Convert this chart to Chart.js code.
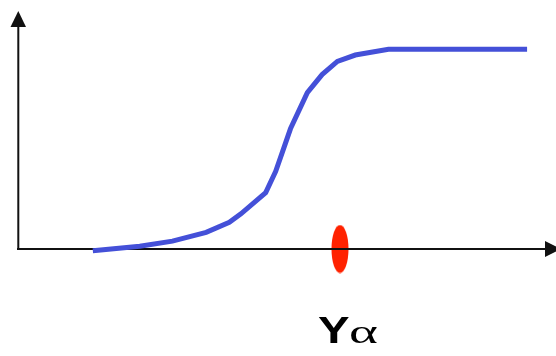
<!DOCTYPE html>
<html>
<head>
<meta charset="utf-8">
<script src="https://cdn.jsdelivr.net/npm/chart.js@4/dist/chart.umd.min.js"></script>
<style>
  html, body { margin: 0; padding: 0; background: #ffffff; }
  #c { display: block; }
</style>
</head>
<body>
<canvas id="c" width="556" height="356"></canvas>
<script>
// ---- data (arbitrary units: x 0..100, y 0..100) ----
const curveX = [14.2, 23.1, 29.3, 35.7, 40.1, 42.3, 47.0, 48.9, 50.2, 51.7, 54.9, 57.7, 60.6, 64.0, 70.3, 96.6];
const curveY = [-0.7, 1.2, 3.3, 7.0, 11.2, 14.8, 23.7, 32.6, 40.9, 50.5, 65.7, 73.3, 78.8, 81.5, 83.9, 83.9];
const markerX = [61.1];
const markerY = [0];
const axisLabelMain = 'Y';
const axisLabelSub = 'α';

// ---- styles ----
const BLUE = 'rgb(68,80,216)';
const RED = 'rgb(255,34,0)';
const AXIS = '#111111';

// ellipse point style
const ell = document.createElement('canvas');
ell.width = 18; ell.height = 49;
(function () {
  const g = ell.getContext('2d');
  g.fillStyle = RED;
  g.beginPath();
  g.ellipse(9, 24.5, 8.5, 24, 0, 0, Math.PI * 2);
  g.fill();
})();

const axesPlugin = {
  id: 'axesPlugin',
  afterDatasetDraw(chart, args) {
    if (args.index !== 1) return;
    const ctx = chart.ctx;
    const xs = chart.scales.x, ys = chart.scales.y;
    const x0 = xs.getPixelForValue(0);
    const y0 = ys.getPixelForValue(0);
    const yTop = ys.getPixelForValue(100);
    const xEnd = xs.getPixelForValue(100);
    ctx.save();
    ctx.strokeStyle = AXIS;
    ctx.fillStyle = AXIS;
    ctx.lineWidth = 2;
    ctx.beginPath();
    ctx.moveTo(x0 + 0.3, y0);
    ctx.lineTo(x0 + 0.3, yTop + 14);
    ctx.moveTo(x0 - 1, y0);
    ctx.lineTo(xEnd + 2, y0);
    ctx.stroke();
    // y arrow head
    ctx.beginPath();
    ctx.moveTo(x0 + 0.3, yTop);
    ctx.lineTo(x0 - 7.5, yTop + 16);
    ctx.lineTo(x0 + 8, yTop + 16);
    ctx.closePath();
    ctx.fill();
    // x arrow head
    ctx.beginPath();
    ctx.moveTo(xEnd + 16, y0);
    ctx.lineTo(xEnd, y0 - 8);
    ctx.lineTo(xEnd, y0 + 8);
    ctx.closePath();
    ctx.fill();
    ctx.restore();
  },
  afterDraw(chart) {
    const ctx = chart.ctx;
    ctx.save();
    ctx.fillStyle = '#000000';
    ctx.textBaseline = 'alphabetic';
    ctx.textAlign = 'left';
    const base = 343;
    // main letter
    ctx.font = 'bold 37px "Liberation Sans", Arial, sans-serif';
    let m = ctx.measureText(axisLabelMain);
    let w = m.actualBoundingBoxRight + m.actualBoundingBoxLeft;
    let sx = 32 / w;
    ctx.save();
    ctx.translate(318, base);
    ctx.scale(sx, 1);
    ctx.fillText(axisLabelMain, m.actualBoundingBoxLeft, 0);
    ctx.restore();
    // greek letter
    ctx.font = '34px "Liberation Serif", "Times New Roman", serif';
    m = ctx.measureText(axisLabelSub);
    w = m.actualBoundingBoxRight + m.actualBoundingBoxLeft;
    sx = 27.5 / w;
    ctx.save();
    ctx.translate(350.5, base);
    ctx.scale(sx, 1);
    ctx.fillText(axisLabelSub, m.actualBoundingBoxLeft, 0);
    ctx.restore();
    ctx.restore();
  }
};

new Chart(document.getElementById('c'), {
  type: 'scatter',
  data: {
    datasets: [
      {
        data: curveX.map((x, i) => ({ x: x, y: curveY[i] })),
        showLine: true,
        borderColor: BLUE,
        borderWidth: 5,
        pointRadius: 0,
        tension: 0,
        borderJoinStyle: 'miter',
        borderCapStyle: 'butt',
        clip: false
      },
      {
        data: markerX.map((x, i) => ({ x: x, y: markerY[i] })),
        showLine: false,
        pointStyle: ell,
        pointRadius: 10,
        clip: false
      }
    ]
  },
  options: {
    responsive: false,
    animation: false,
    devicePixelRatio: 1,
    layout: { padding: { left: 18, right: 9, top: 7, bottom: 107 } },
    scales: {
      x: { type: 'linear', min: 0, max: 100, display: false },
      y: { type: 'linear', min: 0, max: 100, display: false }
    },
    plugins: {
      legend: { display: false },
      tooltip: { enabled: false },
      title: { display: false }
    },
    events: []
  },
  plugins: [axesPlugin]
});
</script>
</body>
</html>
